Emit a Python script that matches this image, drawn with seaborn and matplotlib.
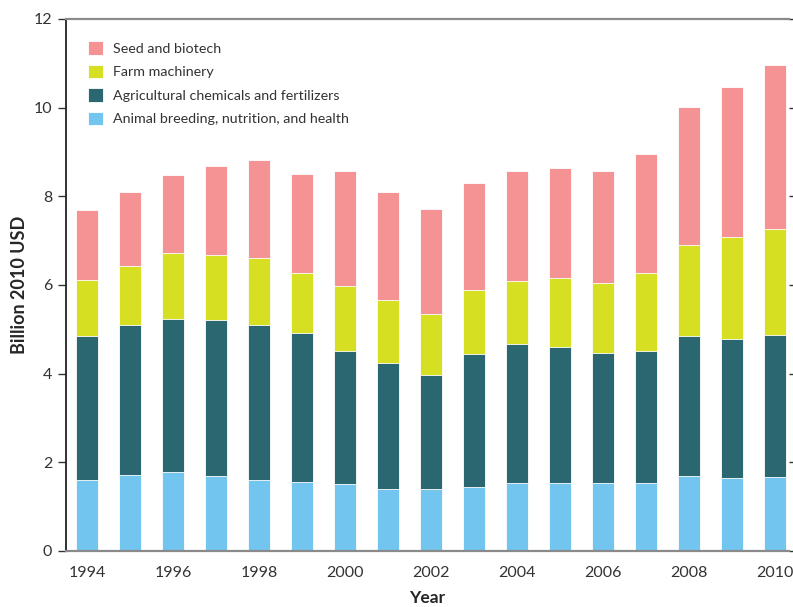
import pandas as pd
import matplotlib.pyplot as plt
import seaborn as sns

# Values (billion 2010 USD)
years = list(range(1994, 2011))
animal = [1.59, 1.71, 1.78, 1.69, 1.59, 1.56, 1.50, 1.40, 1.40, 1.45, 1.53, 1.53, 1.53, 1.53, 1.69, 1.64, 1.66]
chemicals = [3.27, 3.39, 3.45, 3.51, 3.51, 3.35, 3.00, 2.83, 2.56, 3.00, 3.13, 3.08, 2.94, 2.97, 3.17, 3.14, 3.22]
machinery = [1.26, 1.32, 1.49, 1.48, 1.51, 1.35, 1.48, 1.43, 1.38, 1.43, 1.43, 1.54, 1.58, 1.76, 2.04, 2.30, 2.38]
seed = [1.57, 1.67, 1.75, 2.01, 2.21, 2.24, 2.60, 2.43, 2.37, 2.41, 2.49, 2.48, 2.53, 2.70, 3.11, 3.39, 3.70]

labels = ["Animal breeding, nutrition, and health",
          "Agricultural chemicals and fertilizers",
          "Farm machinery",
          "Seed and biotech"]
colors = ["#72C5EE", "#2A6770", "#D6DF22", "#F59293"]

df = pd.DataFrame({labels[0]: animal, labels[1]: chemicals,
                   labels[2]: machinery, labels[3]: seed}, index=years)
# cumulative heights, drawn from the top layer down so they stack
stacked = df.cumsum(axis=1)

sns.set_style("ticks")
plt.rcParams['font.family'] = ['Lato', 'DejaVu Sans']

fig = plt.figure(figsize=(7.93, 6.07), dpi=100)
ax = fig.add_axes([0.0832, 0.0923, 0.9118, 0.8764])

for name, col in zip(labels[::-1], colors[::-1]):
    sns.barplot(x=stacked.index.astype(str), y=stacked[name].values, color=col,
                saturation=1, width=0.52, edgecolor="#ffffff", linewidth=0.6,
                label=name, ax=ax)

ax.set_xlim(-0.49, 16.33)
ax.set_ylim(0, 12)
ax.set_yticks(range(0, 13, 2))
ax.set_xticks(range(0, 17, 2))
ax.set_xticklabels([str(y) for y in years[::2]])

ax.tick_params(axis="y", direction="out", length=6, width=1, color="#333333",
               labelsize=11.5, labelcolor="#333333", pad=4, right=True)
ax.tick_params(axis="x", length=0, labelsize=11.5, labelcolor="#333333", pad=11)

ax.spines["left"].set_color("#222222")
ax.spines["left"].set_linewidth(1.3)
for s in ["top", "bottom"]:
    ax.spines[s].set_color("#8a8a8a")
    ax.spines[s].set_linewidth(1.6)
ax.spines["right"].set_visible(False)

ax.set_xlabel("Year", fontsize=12.5, fontweight="bold", labelpad=7)
ax.set_ylabel("Billion 2010 USD", fontsize=13, fontweight="bold", labelpad=4)

handles, lbls = ax.get_legend_handles_labels()
ax.legend(handles, lbls, loc="upper left", frameon=False, fontsize=10.3,
          handlelength=1.1, handleheight=1.1, handletextpad=0.7,
          labelspacing=0.68, borderaxespad=0.6, bbox_to_anchor=(0.01, 0.985),
          labelcolor="#333333")

fig.savefig("out.png", dpi=100)
